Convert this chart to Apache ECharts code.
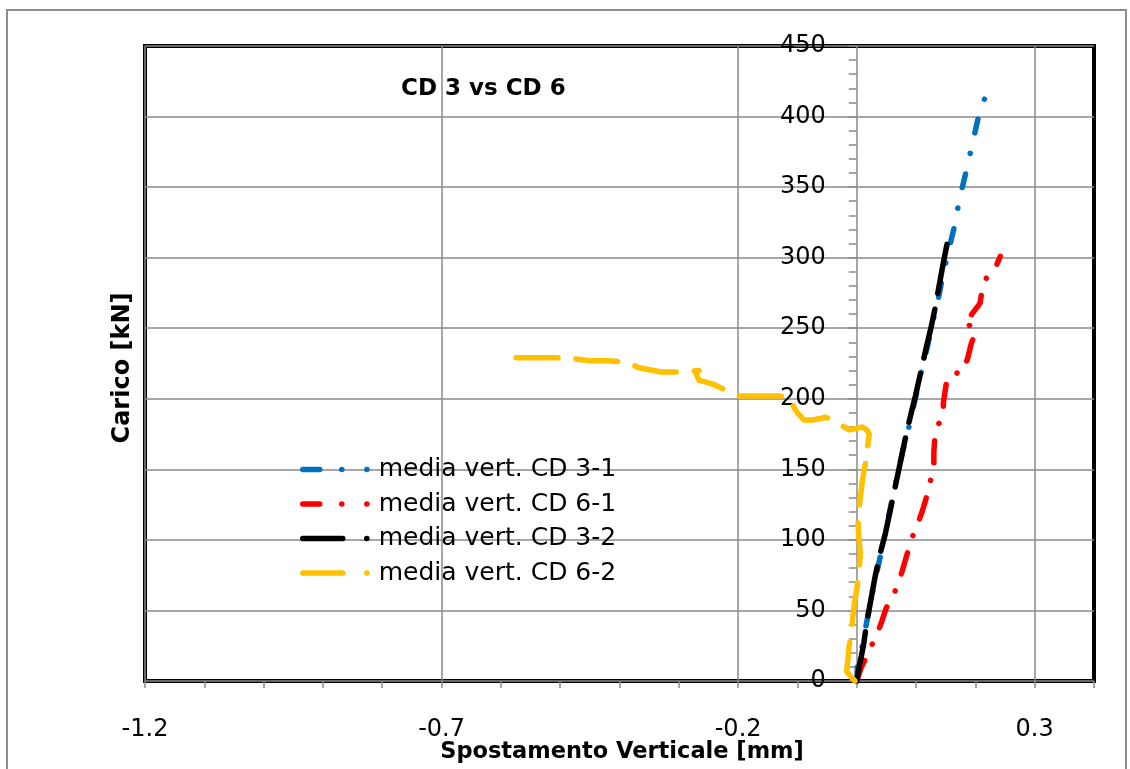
<!DOCTYPE html>
<html>
<head>
<meta charset="utf-8">
<script src="https://cdn.jsdelivr.net/npm/echarts@6/dist/echarts.min.js"></script>
<style>
  html, body { margin: 0; padding: 0; background: #fff; }
  #chart { width: 1130px; height: 769px; }
</style>
</head>
<body>
<div id="chart"></div>
<script>
// Load–displacement curves: [vertical displacement (mm), load (kN)]
const cd3_1 = [[0,0],[0.001,10],[0.008,22],[0.016,40],[0.024,57],[0.032,74],[0.037,83],[0.047,103],[0.057,123],[0.067,143],[0.077,162],[0.088,180],[0.097,197],[0.106,214],[0.116,231],[0.127,252],[0.138,272],[0.145,287],[0.155,305],[0.164,321],[0.174,343],[0.185,362],[0.194,379],[0.201,392],[0.207,403],[0.213,410],[0.217,414],[0.220,415]];
const cd6_1 = [[0.000,0],[0.004,5],[0.008,10],[0.014,15],[0.019,20],[0.027,27],[0.034,33],[0.042,42],[0.050,52],[0.058,58],[0.065,64],[0.071,71],[0.076,77],[0.085,90],[0.093,101],[0.099,108],[0.105,114],[0.111,121],[0.116,128],[0.121,136],[0.126,145],[0.130,152],[0.130,162],[0.132,175],[0.138,182],[0.146,190],[0.146,197],[0.151,211],[0.158,212],[0.163,212],[0.169,218],[0.172,225],[0.186,227],[0.193,239],[0.201,248],[0.190,252],[0.183,251],[0.188,255],[0.194,260],[0.205,266],[0.208,268],[0.211,276],[0.216,283],[0.222,289],[0.230,292],[0.236,295],[0.242,301]];
const cd3_2 = [[0,0],[0.004,10],[0.008,18],[0.012,27],[0.017,42],[0.024,58],[0.031,74],[0.038,88],[0.048,104],[0.057,122],[0.066,140],[0.076,160],[0.085,178],[0.093,192],[0.099,202],[0.108,219],[0.117,236],[0.125,250],[0.132,264],[0.138,278],[0.144,292],[0.150,305],[0.155,315]];
const cd6_2 = [[-0.003,0],[-0.010,3],[-0.017,7],[-0.015,15],[-0.013,24],[-0.010,32],[-0.008,40],[-0.004,55],[0.000,65],[0.003,74],[0.006,90],[0.003,105],[0.002,114],[0.003,120],[0.006,130],[0.009,140],[0.012,148],[0.015,155],[0.018,165],[0.021,175],[0.017,178],[0.009,180],[0.000,179],[-0.013,178],[-0.025,181],[-0.040,185],[-0.053,187],[-0.061,186],[-0.075,185],[-0.089,185],[-0.100,190],[-0.106,194],[-0.112,201],[-0.130,202],[-0.159,202],[-0.198,202],[-0.221,206],[-0.240,210],[-0.255,212],[-0.266,213],[-0.271,218],[-0.266,220],[-0.291,219],[-0.330,219],[-0.367,222],[-0.389,226],[-0.420,227],[-0.451,227],[-0.487,229],[-0.557,229],[-0.596,229]];

const seriesNames = ['media vert. CD 3-1', 'media vert. CD 6-1', 'media vert. CD 3-2', 'media vert. CD 6-2'];
const xLabels = ['-1.2', '-0.7', '-0.2', '0.3'];

const titleText = 'CD 3 vs CD 6';
const xTitle = 'Spostamento Verticale [mm]';
const yTitle = 'Carico [kN]';

const FONT = '"DejaVu Sans", sans-serif';
const GRID_GRAY = '#8a8a8a';

const X_MIN = -1.2, X_MAX = 0.4;
const GRID = { left: 145, right: 36, top: 46, bottom: 88 };
const CHART_W = 1130;

// the vertical axis crosses the horizontal one at x = 0
const plotW = CHART_W - GRID.left - GRID.right;
const yAxisOffset = -plotW * (0 - X_MIN) / (X_MAX - X_MIN);

const chart = echarts.init(document.getElementById('chart'), null, { renderer: 'canvas' });

const palette = ['#0070C0', '#FF0000', '#000000', '#FFC000'];
const lineDash = [[14, 21, 0.1, 21], [22, 18, 0.1, 18], [50, 16], [42, 18]];
const legendDash = [[17, 22, 0.1, 25, 0.1, 40], [17, 22, 0.1, 25, 0.1, 40], [40, 24, 0.1, 40], [40, 24, 0.1, 40]];

function curve(i, data) {
  return {
    name: seriesNames[i],
    type: 'line',
    data: data,
    symbol: 'none',
    clip: true,
    z: 3,
    lineStyle: { color: palette[i], width: 5.5, type: lineDash[i], cap: 'round', join: 'round' },
    itemStyle: { color: palette[i] },
    emphasis: { disabled: true }
  };
}

chart.setOption({
  animation: false,
  backgroundColor: '#fff',
  grid: Object.assign({ show: true, borderColor: '#000', borderWidth: 4, backgroundColor: 'transparent' }, GRID),
  xAxis: {
    type: 'value',
    min: X_MIN, max: X_MAX, interval: 0.1,
    axisLine: { show: false, onZero: false },
    axisTick: { show: true, length: 7, lineStyle: { color: GRID_GRAY, width: 1.5 } },
    axisLabel: {
      margin: 37, color: '#000', fontFamily: FONT, fontSize: 24,
      showMinLabel: true, showMaxLabel: true,
      formatter: function (v) {
        const s = (Math.round(v * 10) / 10).toFixed(1);
        return xLabels.indexOf(s) >= 0 ? s : '';
      }
    },
    splitLine: {
      show: true,
      // one gridline every fifth tick: -1.2, -0.7, -0.2, 0.3
      lineStyle: { color: [GRID_GRAY, 'rgba(0,0,0,0)', 'rgba(0,0,0,0)', 'rgba(0,0,0,0)', 'rgba(0,0,0,0)'], width: 1.5 }
    }
  },
  yAxis: {
    type: 'value',
    min: 0, max: 450, interval: 50,
    offset: yAxisOffset,
    axisLine: { show: true, onZero: false, lineStyle: { color: GRID_GRAY, width: 1.5 } },
    axisTick: { show: true, length: 8, lineStyle: { color: GRID_GRAY, width: 1.5 } },
    minorTick: { show: true, splitNumber: 5, length: 8, lineStyle: { color: GRID_GRAY, width: 1.5 } },
    axisLabel: { margin: 31, color: '#000', fontFamily: FONT, fontSize: 24 },
    splitLine: { show: true, lineStyle: { color: GRID_GRAY, width: 1.5 } }
  },
  legend: {
    left: 300, top: 457, orient: 'vertical', padding: 0,
    itemWidth: 71, itemHeight: 14, itemGap: 9.5,
    textStyle: { color: '#000', fontFamily: FONT, fontSize: 25, lineHeight: 25 },
    itemStyle: { opacity: 0 },
    lineStyle: { width: 5.5, cap: 'round' },
    selectedMode: false,
    data: seriesNames.map(function (n, i) {
      return { name: n, lineStyle: { type: legendDash[i], width: 5.5, cap: 'round' } };
    })
  },
  graphic: [
    { type: 'rect', silent: true, z: -10, shape: { x: 7, y: 10, width: 1119, height: 800 },
      style: { fill: 'none', stroke: '#8e8e8e', lineWidth: 2 } },
    { type: 'text', silent: true, x: 401, y: 89,
      style: { text: titleText, fill: '#000', font: 'bold 23px "DejaVu Sans", sans-serif', textAlign: 'left', textVerticalAlign: 'middle' } },
    { type: 'text', silent: true, x: 622, y: 752,
      style: { text: xTitle, fill: '#000', font: 'bold 22.5px "DejaVu Sans", sans-serif', textAlign: 'center', textVerticalAlign: 'middle' } },
    { type: 'text', silent: true, x: 123, y: 368, rotation: Math.PI / 2,
      style: { text: yTitle, fill: '#000', font: 'bold 24px "DejaVu Sans", sans-serif', textAlign: 'center', textVerticalAlign: 'middle' } }
  ],
  series: [
    curve(0, cd3_1),
    curve(1, cd6_1),
    curve(2, cd3_2),
    curve(3, cd6_2)
  ]
});
</script>
</body>
</html>
